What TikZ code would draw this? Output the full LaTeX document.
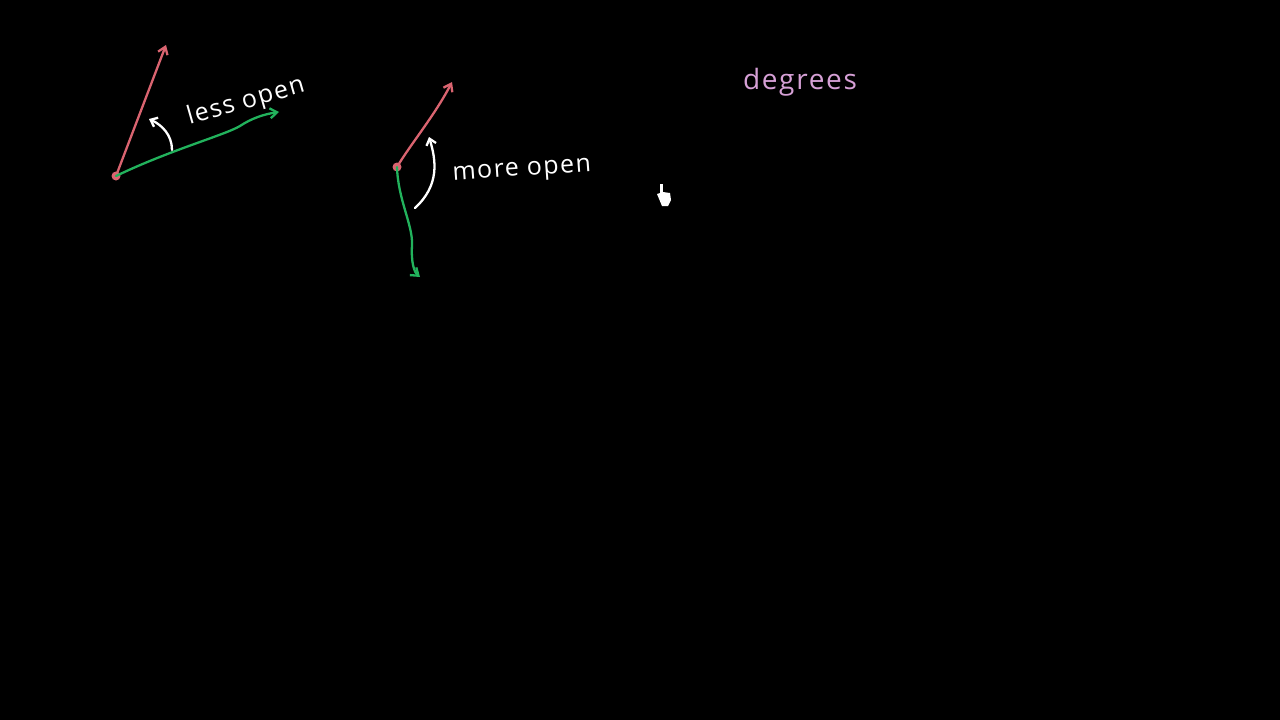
\documentclass[tikz,border=0pt]{standalone}
\usepackage{fontspec}
\setmainfont{Open Sans}[LetterSpace=6]
\usetikzlibrary{arrows.meta}
\definecolor{ray}{RGB}{218,100,112}
\definecolor{grn}{RGB}{34,178,92}
\definecolor{pinktext}{RGB}{214,160,214}
\begin{document}
\begin{tikzpicture}[x=1pt,y=-1pt,
  raystyle/.style={ray,line width=2.3pt,line cap=round,-{Straight Barb[length=7pt,width=10pt]}},
  grnstyle/.style={grn,line width=2.3pt,line cap=round,-{Straight Barb[length=7pt,width=10pt]}},
  whitearrow/.style={white,line width=2.3pt,line cap=round,-{Straight Barb[length=6pt,width=10pt]}},
  handtext/.style={white,font=\fontsize{25}{27}\selectfont,inner sep=0pt},
  dot/.style={circle,fill=ray,inner sep=0pt,minimum size=9pt}]
\fill[black] (0,0) rectangle (1280,720);
\useasboundingbox (0,0) rectangle (1280,720);
% first angle
\node[dot] (v1) at (116,176) {};
\coordinate (r1) at (166,45);
\coordinate (g1) at (279,112);
\draw[raystyle] (v1.center) -- (r1);
\draw[grnstyle] (v1.center) .. controls (170,150) and (225,135) .. (240,126) .. controls (252,118) and (265,114) .. (g1);
\coordinate (a1s) at (172,150);
\coordinate (a1e) at (149,119);
\draw[whitearrow] (a1s) .. controls (172,135) and (162,125) .. (a1e);
\node[handtext,rotate=16,anchor=center] (t1) at (246,102) {less open};
% second angle
\node[dot] (v2) at (397,167) {};
\coordinate (r2) at (452,82);
\coordinate (g2) at (420,277);
\draw[raystyle] (v2.center) .. controls (410,145) and (435,115) .. (r2);
\draw[grnstyle] (v2.center) .. controls (398,200) and (413,225) .. (412,245) .. controls (411,262) and (414,272) .. (g2);
\coordinate (a2s) at (415,208);
\coordinate (a2e) at (429,137);
\draw[whitearrow] (a2s) .. controls (440,185) and (436,160) .. (a2e);
\node[handtext,rotate=4,anchor=center] (t2) at (522,172) {more open};
% degrees
\node[handtext,text=pinktext,font=\fontsize{28}{30}\selectfont,anchor=center] (t3) at (800,82) {degrees};
% cursor
\fill[white] (660,184) rectangle (663,197);
\fill[white] (657,194) -- (663,192) -- (670,193) -- (671,200) -- (668,206) -- (662,206) -- cycle;
\end{tikzpicture}
\end{document}
